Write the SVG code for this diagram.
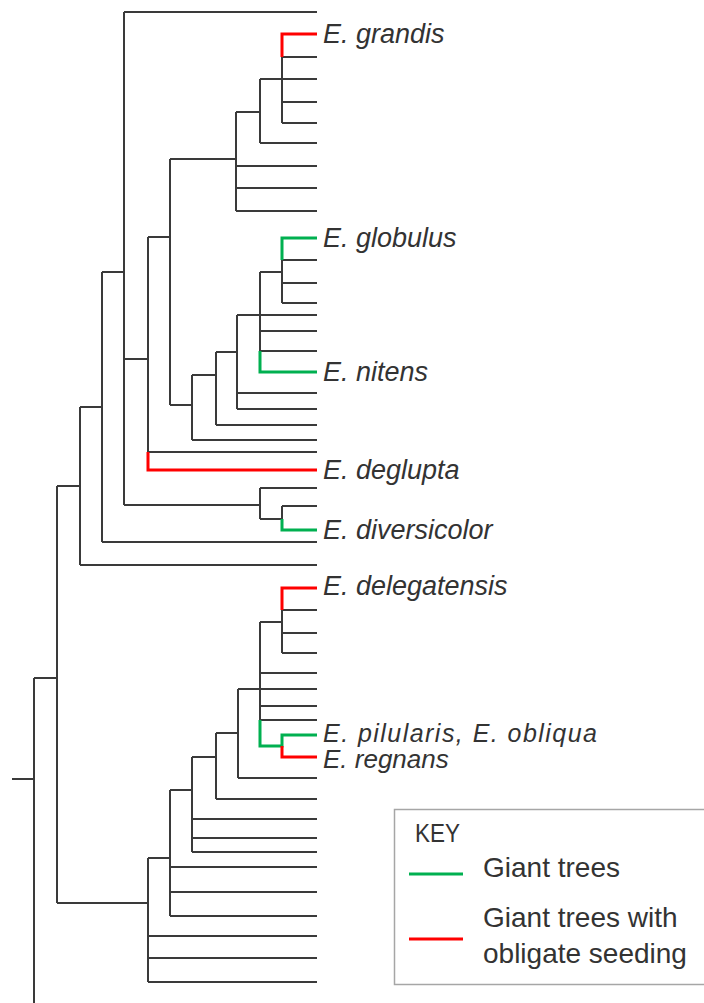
<svg xmlns="http://www.w3.org/2000/svg" width="704" height="1003" viewBox="0 0 704 1003">
<style>
.b{fill:none;stroke:#3a3a3a;stroke-width:2;stroke-linejoin:miter}
.g{fill:none;stroke:#00b050;stroke-width:3;stroke-linejoin:miter}
.r{fill:none;stroke:#ff0000;stroke-width:3;stroke-linejoin:miter}
.lab{font-family:"Liberation Sans",Arial,sans-serif;font-style:italic;font-size:27px;fill:#333}
.key{font-family:"Liberation Sans",Arial,sans-serif;font-size:28px;fill:#333}
</style>
<rect width="704" height="1003" fill="#fff"/>
<g id="connectors">
<path class="b" d="M12,779H34M34,678V1003M34,678H57
M57,486V903M57,486H80M57,903H148
M80,407V565M80,407H102M80,565H317
M102,272V542M102,272H124M102,542H317
M124,12V505M124,12H317M124,359H148M124,505H260
M148,237V452M148,237H170M148,452H317
M170,159V405M170,159H236M170,405H192
M236,112V211M236,112H260M236,166H317M236,188H317M236,211H317
M260,79V143M260,79H317M260,143H317
M282,57V123M282,57H317M282,102H317M282,123H317
M192,375V440M192,375H216M192,440H317
M216,352V425M216,352H237M216,425H317
M237,315V409M237,315H317M237,393H317M237,409H317
M260,272V351M260,272H282M260,331H317M260,351H317
M282,260V303M282,260H317M282,283H317M282,303H317
M260,488V519M260,488H317M260,519H282
M282,506V519M282,506H317
M148,858V982M148,858H170M148,936H317M148,958H317M148,982H317
M170,790V916M170,790H192M170,867H317M170,892H317M170,916H317
M192,757V852M192,757H216M192,819H317M192,838H317M192,852H317
M216,733V799M216,733H238M216,799H317
M238,689V778M238,689H317M238,778H317
M260,622V720M260,622H282M260,673H317M260,706H317M260,720H317
M282,610V653M282,610H317M282,633H317M282,653H317"/>
<path class="r" d="M317,34H282V57"/>
<path class="g" d="M317,238H282V260"/>
<path class="g" d="M260,351V372H317"/>
<path class="r" d="M148,452V470H317"/>
<path class="g" d="M282,519V530H317"/>
<path class="r" d="M317,588H282V610"/>
<path class="g" d="M260,720V746H282V735H317"/>
<path class="r" d="M282,746V757H317"/>
</g>
<g id="grandis"><text class="lab" x="323" y="43">E. grandis</text></g>
<g id="globulus"><text class="lab" x="323" y="247">E. globulus</text></g>
<g id="nitens"><text class="lab" x="323" y="381">E. nitens</text></g>
<g id="deglupta"><text class="lab" x="323" y="479">E. deglupta</text></g>
<g id="diversicolor"><text class="lab" x="323" y="539">E. diversicolor</text></g>
<g id="delegatensis"><text class="lab" x="323" y="595">E. delegatensis</text></g>
<g id="pilularis"><text class="lab" x="323" y="742" style="font-size:25px" textLength="274" lengthAdjust="spacing">E. pilularis, E. obliqua</text></g>
<g id="regnans"><text class="lab" x="323" y="768" style="font-size:26px">E. regnans</text></g>
<g id="legend">
<rect x="394.5" y="809.5" width="320" height="175" fill="#fff" stroke="#a6a6a6" stroke-width="1.5"/>
<text class="key" x="415" y="842" style="font-size:26px" textLength="45" lengthAdjust="spacingAndGlyphs">KEY</text>
<path class="g" d="M409,874H463"/>
<text class="key" x="483" y="877">Giant trees</text>
<path class="r" d="M409,939H463"/>
<text class="key" x="483" y="927">Giant trees with</text>
<text class="key" x="483" y="963">obligate seeding</text>
</g>
</svg>
